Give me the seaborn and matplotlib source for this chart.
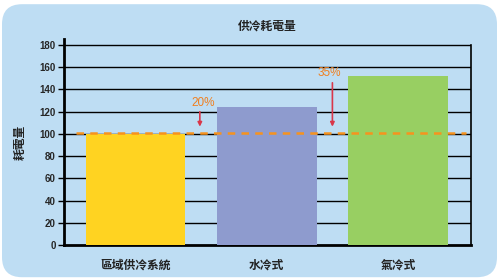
import matplotlib
matplotlib.use("Agg")
import matplotlib.pyplot as plt
import seaborn as sns
import pandas as pd
from matplotlib.patches import FancyBboxPatch

categories = ["區域供冷系統", "水冷式", "氣冷式"]
values = [100, 124, 152]
colors = ["#FFD321", "#8E9BCE", "#98CF62"]
baseline = 101
annotations = ["20%", "35%"]
yticks = [0, 20, 40, 60, 80, 100, 120, 140, 160, 180]
title = "供冷耗電量"
ylabel = "耗電量"

sns.set_theme(style="white")
plt.rcParams['font.family'] = ['Noto Sans CJK TC', 'DejaVu Sans']

bg = "#BEDDF3"
fig = plt.figure(figsize=(5, 2.8), dpi=100)
fig.patch.set_facecolor("white")
panel = FancyBboxPatch((0.004, 0.01), 0.99, 0.975, boxstyle="round,pad=0,rounding_size=0.04",
                       transform=fig.transFigure, facecolor=bg, edgecolor="none",
                       mutation_aspect=500/280, zorder=-10)
fig.patches.append(panel)

ax = fig.add_axes([0.128, 0.125, 0.814, 0.734])
ax.set_zorder(1)
ax.set_facecolor("none")
df = pd.DataFrame({"cat": categories, "val": values})
sns.barplot(data=df, x="cat", y="val", hue="cat", palette=colors, width=0.76,
            legend=False, ax=ax, zorder=3, saturation=1, edgecolor="none", linewidth=0)
ax.set_xlim(-0.545, 2.556)
ax.set_ylim(0, 185)
ax.set_yticks(yticks)
for t in yticks[1:]:
    ax.axhline(t, color="black", lw=1.0, zorder=1)
ax.spines["top"].set_visible(False)
ax.spines["right"].set_bounds(0, 180)
ax.spines["right"].set_linewidth(1.2)
ax.spines["right"].set_color("black")
ax.spines["left"].set_linewidth(2)
ax.spines["left"].set_color("black")
ax.spines["bottom"].set_linewidth(2)
ax.spines["bottom"].set_color("black")
ax.tick_params(axis="y", left=True, length=4, width=1, color="black", labelsize=7, pad=2)
ax.tick_params(axis="x", bottom=False, labelsize=8.5, pad=4)
for lab in ax.get_yticklabels():
    lab.set_fontweight("bold")
    lab.set_family(["Liberation Sans", "DejaVu Sans"])
for lab in ax.get_xticklabels():
    lab.set_fontweight("bold")
    lab.set_color("#222222")
ax.set_xlabel("")
ax.set_ylabel(ylabel, fontsize=8.5, labelpad=9, fontweight="bold", color="#222222")
ax.set_title(title, fontsize=8.5, pad=7, fontweight="bold", color="#222222")

ax.plot([-0.45, 2.52], [baseline, baseline], ls=(0, (3, 2.5)), color="#F7931E", lw=1.8, zorder=4)

ax.annotate("", xy=(0.49, baseline + 3), xytext=(0.49, 122.5),
            arrowprops=dict(arrowstyle="-|>", color="#D9374A", lw=1.2, mutation_scale=6), zorder=5)
ax.text(0.515, 128, annotations[0], color="#F07F1E", fontsize=8.5, ha="center", va="center",
        family=["Liberation Sans", "DejaVu Sans"])
ax.annotate("", xy=(1.50, baseline + 3), xytext=(1.50, 148.5),
            arrowprops=dict(arrowstyle="-|>", color="#D9374A", lw=1.2, mutation_scale=6), zorder=5)
ax.text(1.48, 155, annotations[1], color="#F07F1E", fontsize=8.5, ha="center", va="center",
        family=["Liberation Sans", "DejaVu Sans"])

fig.savefig("out.png", dpi=100, facecolor="white")
